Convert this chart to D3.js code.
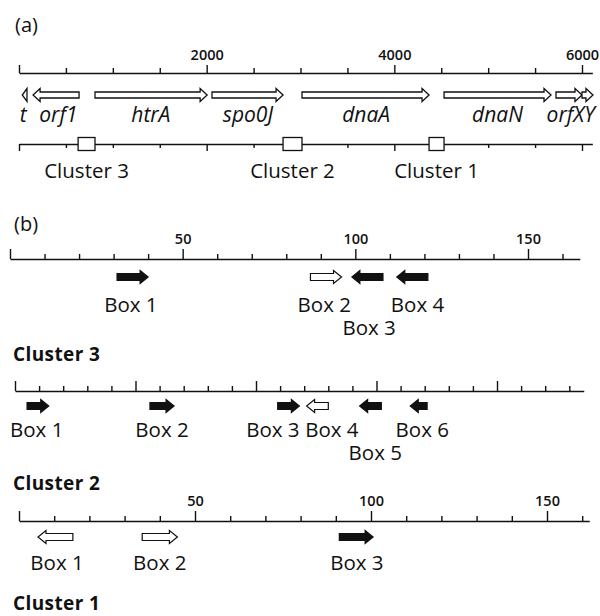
<!DOCTYPE html>
<html>
<head>
<meta charset="utf-8">
<script src="https://cdn.jsdelivr.net/npm/d3@7"></script>
<style>
  html, body { margin: 0; padding: 0; background: #fff; }
  svg { display: block; font-family: "Open Sans", "Noto Sans", sans-serif; }
</style>
</head>
<body>
<svg id="chart" width="600" height="616"></svg>
<script>
// ---------------- DATA ----------------
// Panel (a): genome map (bp)
const genomeMajorTicks = [0, 2000, 4000, 6000];
const genomeMinorTicks = [500, 1000, 1500, 2500, 3000, 3500, 4500, 5000, 5500];
const genomeTickLabels = [2000, 4000, 6000];

const geneNames  = ["t", "orf1", "htrA", "spo0J", "dnaA", "dnaN", "orfX", "orfY"];
const geneStart  = [35, 150, 810, 2057, 3016, 4530, 5723, 6000];
const geneEnd    = [85, 640, 2005, 2814, 4370, 5670, 6000, 6117];
const geneStrand = [-1, -1, 1, 1, 1, 1, 1, 1];

const geneLabelText = ["t", "orf1", "htrA", "spo0J", "dnaA", "dnaN", "orfXY"];
const geneLabelAt   = [45, 420, 1405, 2440, 3700, 5100, 5880];

const clusterNames = ["Cluster 3", "Cluster 2", "Cluster 1"];
const clusterStart = [630, 2814, 4370];
const clusterEnd   = [810, 3016, 4530];

// Panel (b): box positions within each cluster (bp)
const c3Names  = ["Box 1", "Box 2", "Box 3", "Box 4"];
const c3Start  = [31, 87, 99, 112];
const c3End    = [40, 96, 108, 121];
const c3Strand = [1, 1, -1, -1];
const c3Filled = [true, false, true, true];
const c3LabelAt  = [35, 91, 104, 118];
const c3LabelRow = [0, 0, 1, 0];
const c3MajorTicks = [0, 50, 100, 150];
const c3MinorTicks = [10, 20, 30, 40, 60, 70, 80, 90, 110, 120, 130, 140, 160];
const c3TickLabels = [50, 100, 150];

const c2Names  = ["Box 1", "Box 2", "Box 3", "Box 4", "Box 5", "Box 6"];
const c2Start  = [5, 56, 109, 121, 143, 164];
const c2End    = [14, 66, 118, 130, 152, 171];
const c2Strand = [1, 1, 1, -1, -1, -1];
const c2Filled = [true, true, true, false, true, true];
const c2LabelAt  = [9, 61, 107, 131.5, 149.5, 169];
const c2LabelRow = [0, 0, 0, 0, 1, 0];
const c2MajorTicks = [0, 50, 100, 150, 200];
const c2MinorTicks = [10, 20, 30, 40, 60, 70, 80, 90, 110, 120, 130, 140, 160, 170, 180, 190, 210, 220, 230];
const c2TickLabels = [];

const c1Names  = ["Box 1", "Box 2", "Box 3"];
const c1Start  = [5.4, 35, 91];
const c1End    = [15.3, 45, 100.6];
const c1Strand = [-1, 1, 1];
const c1Filled = [false, false, true];
const c1LabelAt  = [10.8, 40, 96];
const c1LabelRow = [0, 0, 0];
const c1MajorTicks = [0, 50, 100, 150];
const c1MinorTicks = [10, 20, 30, 40, 60, 70, 80, 90, 110, 120, 130, 140, 160];
const c1TickLabels = [50, 100, 150];

// ---------------- DRAWING ----------------
const svg = d3.select("#chart");
const INK = "#111";

function arrowPath(xa, xb, dir, y, bh, hh, hl) {
  const x0 = Math.min(xa, xb), x1 = Math.max(xa, xb);
  const len = x1 - x0;
  const h = Math.min(hl, len);
  if (dir > 0) {
    const xn = x1 - h;
    if (len <= hl) return `M${x0},${y - hh}L${x1},${y}L${x0},${y + hh}Z`;
    return `M${x0},${y - bh}L${xn},${y - bh}L${xn},${y - hh}L${x1},${y}L${xn},${y + hh}L${xn},${y + bh}L${x0},${y + bh}Z`;
  } else {
    const xn = x0 + h;
    if (len <= hl) return `M${x1},${y - hh}L${x0},${y}L${x1},${y + hh}Z`;
    return `M${x1},${y - bh}L${xn},${y - bh}L${xn},${y - hh}L${x0},${y}L${xn},${y + hh}L${xn},${y + bh}L${x1},${y + bh}Z`;
  }
}

function drawAxis(g, scale, major, minor, labels, majorLen, minorLen, orient, fontSize) {
  const mk = orient === "top" ? d3.axisTop : d3.axisBottom;
  const gMinor = g.append("g").call(
    mk(scale).tickValues(minor).tickSize(minorLen).tickSizeOuter(0).tickFormat(""));
  const gMajor = g.append("g").call(
    mk(scale).tickValues(major).tickSize(majorLen).tickSizeOuter(0).tickPadding(5)
      .tickFormat(d => labels.includes(d) ? d : ""));
  gMajor.select(".domain").remove();
  [gMinor, gMajor].forEach(a => {
    a.selectAll("path, line").attr("stroke", INK).attr("stroke-width", 1.4);
    a.selectAll("text").attr("fill", INK)
      .style("font-family", "'Open Sans', sans-serif")
      .style("font-size", fontSize + "px").style("font-weight", 600);
  });
}

// Panel label (a)
svg.append("text").attr("x", 15).attr("y", 32).text("(a)")
  .style("font-size", "20px").attr("fill", INK);

// Genome scale
const xg = d3.scaleLinear().domain([0, 6110]).range([19, 19 + 6110 * (563 / 6000)]);
drawAxis(svg.append("g").attr("transform", "translate(0,73)"), xg,
  genomeMajorTicks, genomeMinorTicks, genomeTickLabels, 8, 5, "top", 14.5);

// Genes
const genes = geneNames.map((n, i) => ({ n, s: geneStart[i], e: geneEnd[i], d: geneStrand[i] }));
svg.append("g").selectAll("path").data(genes).join("path")
  .attr("d", d => arrowPath(xg(d.s), xg(d.e), d.d, 95, 3, 6.5, 7))
  .attr("fill", "#fff").attr("stroke", INK).attr("stroke-width", 1.3)
  .attr("stroke-linejoin", "miter");

svg.append("g").selectAll("text").data(geneLabelText).join("text")
  .attr("x", (d, i) => xg(geneLabelAt[i])).attr("y", 122)
  .attr("text-anchor", "middle").text(d => d)
  .style("font-size", "21px").style("font-style", "italic").attr("fill", INK);

// Cluster line
drawAxis(svg.append("g").attr("transform", "translate(0,144)"), xg,
  genomeMajorTicks, genomeMinorTicks, [], 7, 4, "bottom", 14.5);

const clusters = clusterNames.map((n, i) => ({ n, s: clusterStart[i], e: clusterEnd[i] }));
svg.append("g").selectAll("rect").data(clusters).join("rect")
  .attr("x", d => xg(d.s)).attr("width", d => xg(d.e) - xg(d.s))
  .attr("y", 144 - 6.5).attr("height", 13)
  .attr("fill", "#fff").attr("stroke", INK).attr("stroke-width", 1.3);
svg.append("g").selectAll("text").data(clusters).join("text")
  .attr("x", d => (xg(d.s) + xg(d.e)) / 2).attr("y", 178)
  .attr("text-anchor", "middle").text(d => d.n)
  .style("font-size", "20.5px").attr("fill", INK);

// Panel label (b)
svg.append("text").attr("x", 14).attr("y", 231).text("(b)")
  .style("font-size", "20px").attr("fill", INK);

function drawCluster(cfg) {
  const x = d3.scaleLinear().domain(cfg.domain).range(cfg.range);
  drawAxis(svg.append("g").attr("transform", `translate(0,${cfg.axisY})`), x,
    cfg.major, cfg.minor, cfg.labels, 10, 5, "top", 14.5);
  const boxes = cfg.names.map((n, i) => ({
    n, s: cfg.start[i], e: cfg.end[i], d: cfg.strand[i], f: cfg.filled[i],
    at: cfg.labelAt[i], row: cfg.labelRow[i]
  }));
  svg.append("g").selectAll("path").data(boxes).join("path")
    .attr("d", d => arrowPath(x(d.s), x(d.e), d.d, cfg.boxY, 3.5, 6.5, 8))
    .attr("fill", d => d.f ? INK : "#fff").attr("stroke", INK).attr("stroke-width", 1.2);
  svg.append("g").selectAll("text").data(boxes).join("text")
    .attr("x", d => x(d.at)).attr("y", d => cfg.labelY + d.row * 23)
    .attr("text-anchor", "middle").text(d => d.n)
    .style("font-size", "20.5px").attr("fill", INK);
  svg.append("text").attr("x", 13).attr("y", cfg.titleY).text(cfg.title)
    .style("font-size", "19px").style("font-weight", 700)
    .style("letter-spacing", "0.4px").attr("fill", INK);
}

drawCluster({
  domain: [0, 165], range: [10, 10 + 165 * (518 / 150)], axisY: 259,
  major: c3MajorTicks, minor: c3MinorTicks, labels: c3TickLabels,
  names: c3Names, start: c3Start, end: c3End, strand: c3Strand, filled: c3Filled,
  labelAt: c3LabelAt, labelRow: c3LabelRow, boxY: 277, labelY: 312,
  title: "Cluster 3", titleY: 361
});
drawCluster({
  domain: [0, 236], range: [15, 15 + 236 * (482 / 200)], axisY: 391,
  major: c2MajorTicks, minor: c2MinorTicks, labels: c2TickLabels,
  names: c2Names, start: c2Start, end: c2End, strand: c2Strand, filled: c2Filled,
  labelAt: c2LabelAt, labelRow: c2LabelRow, boxY: 406, labelY: 437,
  title: "Cluster 2", titleY: 490
});
drawCluster({
  domain: [0, 162], range: [19, 19 + 162 * (528 / 150)], axisY: 521,
  major: c1MajorTicks, minor: c1MinorTicks, labels: c1TickLabels,
  names: c1Names, start: c1Start, end: c1End, strand: c1Strand, filled: c1Filled,
  labelAt: c1LabelAt, labelRow: c1LabelRow, boxY: 537, labelY: 570,
  title: "Cluster 1", titleY: 610
});
</script>
</body>
</html>
